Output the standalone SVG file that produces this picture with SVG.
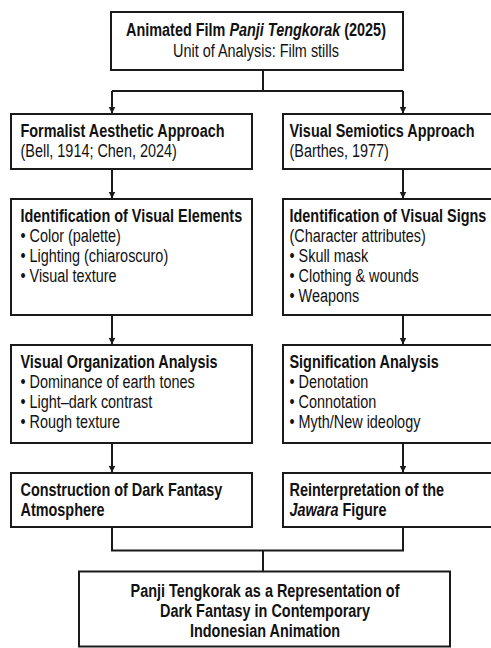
<svg xmlns="http://www.w3.org/2000/svg" width="491" height="648" viewBox="0 0 491 648">
<defs>
<style>
.box{fill:#fff;stroke:#1a1a1a;stroke-width:2}
.conn{fill:none;stroke:#1a1a1a;stroke-width:2}
text{font-family:"Liberation Sans",Arial,sans-serif;font-size:17.6px;fill:#111}
.b{font-weight:bold}
.i{font-style:italic}
.c{text-anchor:middle}
</style>
<marker id="ah" viewBox="0 0 10 10" refX="10" refY="5" markerWidth="7" markerHeight="10" markerUnits="userSpaceOnUse" orient="auto">
<path d="M0,0 L10,5 L0,10 z" fill="#1a1a1a"/>
</marker>
</defs>
<rect width="491" height="648" fill="#fff"/>
<g id="connectors">
<path class="conn" d="M263,70 V91 M112,91 H403"/>
<path class="conn" d="M112,91 V113.5" marker-end="url(#ah)"/>
<path class="conn" d="M403,91 V113.5" marker-end="url(#ah)"/>
<path class="conn" d="M112,169 V198.5" marker-end="url(#ah)"/>
<path class="conn" d="M403,169 V198.5" marker-end="url(#ah)"/>
<path class="conn" d="M112,315 V344.5" marker-end="url(#ah)"/>
<path class="conn" d="M403,315 V344.5" marker-end="url(#ah)"/>
<path class="conn" d="M112,443 V472.5" marker-end="url(#ah)"/>
<path class="conn" d="M403,443 V472.5" marker-end="url(#ah)"/>
<path class="conn" d="M112,527 V550.5 H403 V527 M263,550.5 V571.5"/>
</g>
<g id="n-film">
<rect class="box" x="111" y="12" width="292" height="58"/>
<text class="c b" transform="translate(256,35.5) scale(0.82,1)">Animated Film <tspan class="i">Panji Tengkorak</tspan> (2025)</text>
<text class="c" transform="translate(256,56.5) scale(0.82,1)">Unit of Analysis: Film stills</text>
</g>
<g id="n-formalist">
<rect class="box" x="11" y="114" width="241" height="55"/>
<text class="b" transform="translate(20.5,137) scale(0.82,1)">Formalist Aesthetic Approach</text>
<text transform="translate(20.5,157) scale(0.82,1)">(Bell, 1914; Chen, 2024)</text>
</g>
<g id="n-semiotics">
<rect class="box" x="283" y="114" width="241" height="55"/>
<text class="b" transform="translate(289.5,137) scale(0.82,1)">Visual Semiotics Approach</text>
<text transform="translate(289.5,157) scale(0.82,1)">(Barthes, 1977)</text>
</g>
<g id="n-elements">
<rect class="box" x="11" y="199" width="241" height="116"/>
<text class="b" transform="translate(20.5,222) scale(0.82,1)">Identification of Visual Elements</text>
<text transform="translate(20.5,242) scale(0.82,1)">• Color (palette)</text>
<text transform="translate(20.5,262) scale(0.82,1)">• Lighting (chiaroscuro)</text>
<text transform="translate(20.5,282) scale(0.82,1)">• Visual texture</text>
</g>
<g id="n-signs">
<rect class="box" x="283" y="199" width="241" height="116"/>
<text class="b" transform="translate(289.5,222) scale(0.82,1)">Identification of Visual Signs</text>
<text transform="translate(289.5,242) scale(0.82,1)">(Character attributes)</text>
<text transform="translate(289.5,262) scale(0.82,1)">• Skull mask</text>
<text transform="translate(289.5,282) scale(0.82,1)">• Clothing &amp; wounds</text>
<text transform="translate(289.5,302) scale(0.82,1)">• Weapons</text>
</g>
<g id="n-organization">
<rect class="box" x="11" y="345" width="241" height="98"/>
<text class="b" transform="translate(20.5,368) scale(0.82,1)">Visual Organization Analysis</text>
<text transform="translate(20.5,388) scale(0.82,1)">• Dominance of earth tones</text>
<text transform="translate(20.5,408) scale(0.82,1)">• Light–dark contrast</text>
<text transform="translate(20.5,428) scale(0.82,1)">• Rough texture</text>
</g>
<g id="n-signification">
<rect class="box" x="283" y="345" width="241" height="98"/>
<text class="b" transform="translate(289.5,368) scale(0.82,1)">Signification Analysis</text>
<text transform="translate(289.5,388) scale(0.82,1)">• Denotation</text>
<text transform="translate(289.5,408) scale(0.82,1)">• Connotation</text>
<text transform="translate(289.5,428) scale(0.82,1)">• Myth/New ideology</text>
</g>
<g id="n-atmosphere">
<rect class="box" x="11" y="473" width="241" height="54"/>
<text class="b" transform="translate(20.5,496) scale(0.82,1)">Construction of Dark Fantasy</text>
<text class="b" transform="translate(20.5,516) scale(0.82,1)">Atmosphere</text>
</g>
<g id="n-jawara">
<rect class="box" x="283" y="473" width="241" height="54"/>
<text class="b" transform="translate(289.5,496) scale(0.82,1)">Reinterpretation of the</text>
<text class="b" transform="translate(289.5,516) scale(0.82,1)"><tspan class="i">Jawara</tspan> Figure</text>
</g>
<g id="n-result">
<rect class="box" x="79" y="571.5" width="371" height="75"/>
<text class="c b" transform="translate(265,597) scale(0.82,1)">Panji Tengkorak as a Representation of</text>
<text class="c b" transform="translate(265,617) scale(0.82,1)">Dark Fantasy in Contemporary</text>
<text class="c b" transform="translate(265,637) scale(0.82,1)">Indonesian Animation</text>
</g>
</svg>
